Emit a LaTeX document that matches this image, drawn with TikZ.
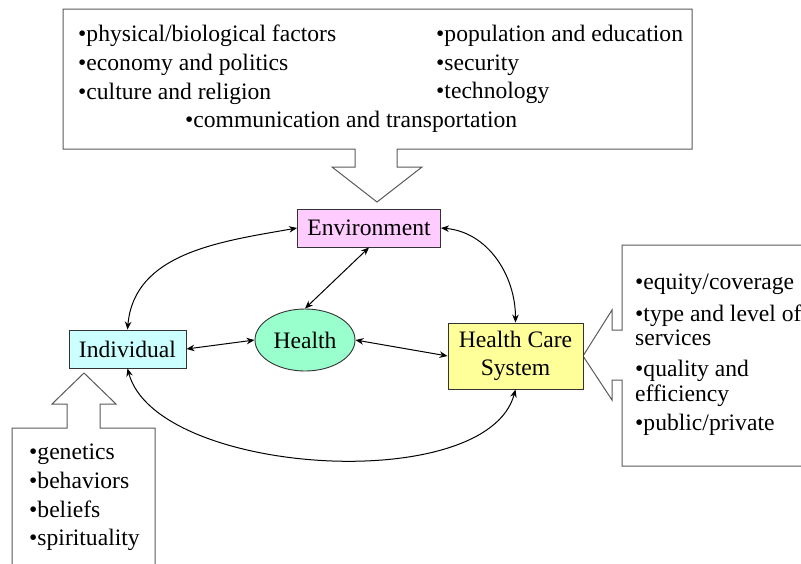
\documentclass[tikz,border=0pt]{standalone}
\usepackage{fontspec}
\setmainfont{Liberation Serif}
\usepackage{tikz}
\usetikzlibrary{shapes.geometric, arrows.meta}

\definecolor{envpink}{RGB}{255,204,255}
\definecolor{indcyan}{RGB}{204,255,255}
\definecolor{healthgreen}{RGB}{153,255,204}
\definecolor{hcsyellow}{RGB}{255,255,153}

\begin{document}
\begin{tikzpicture}[
    x=1pt, y=1pt,
    every node/.style={font=\fontsize{23.6}{28.6}\selectfont},
    box/.style={draw=black!80, line width=0.9pt, inner sep=0pt, align=center},
    callout/.style={draw=black!65, line width=1pt},
    listtext/.style={anchor=north west, inner sep=0pt, align=left},
    link/.style={{Stealth[length=8pt,width=6.5pt]}-{Stealth[length=8pt,width=6.5pt]}, line width=1pt}
]
    \useasboundingbox (0,0) rectangle (801,-563);

    % callout shapes
    \draw[callout] (63,-9) -- (692,-9) -- (692,-149) -- (397,-149) -- (397,-167) -- (422,-167)
        -- (377,-202) -- (332,-167) -- (355,-167) -- (355,-149) -- (63,-149) -- cycle;
    \draw[callout] (812,-245) -- (622,-245) -- (622,-330) -- (612,-330) -- (612,-310) -- (583,-356)
        -- (612,-400) -- (612,-380) -- (622,-380) -- (622,-466) -- (812,-466);
    \draw[callout] (12,-575) -- (12,-428) -- (67,-428) -- (67,-404) -- (52,-404) -- (84,-373)
        -- (116,-404) -- (100,-404) -- (100,-428) -- (155,-428) -- (155,-575);

    % callout texts
    \node[listtext] (envleft) at (78,-25) {•physical/biological factors\\•economy and politics\\•culture and religion};
    \node[listtext] (envright) at (436,-25) {•population and education\\•security\\•technology};
    \node[anchor=base west, inner sep=0pt] (envbottom) at (185,-127) {•communication and transportation};
    \node[listtext, font=\fontsize{23.6}{24.5}\selectfont] (hcslist) at (635,-274)
        {•equity/coverage\\[7pt]•type and level of\\services\\[6.5pt]•quality and\\efficiency\\[4.5pt]•public/private};
    \node[listtext] (indlist) at (29,-444) {•genetics\\•behaviors\\•beliefs\\•spirituality};

    % main nodes
    \node[box, fill=envpink, minimum width=143pt, minimum height=38pt] (env) at (369,-228) {Environment};
    \node[box, fill=indcyan, minimum width=117pt, minimum height=38pt] (indiv) at (127.5,-349) {Individual};
    \node[ellipse, draw=black!80, line width=0.9pt, fill=healthgreen, minimum width=100pt, minimum height=62pt, inner sep=0pt] (health) at (305,-340) {Health};
    \node[box, fill=hcsyellow, minimum width=135pt, minimum height=66pt] (hcs) at (515.5,-356) {Health Care\\System};

    \draw[link] (indiv.north) to[out=85, in=190] (env.west);
    \draw[link] (env.east) to[out=-5, in=90] (hcs.north);
    \draw[link] (env.south) -- (health.north);
    \draw[link] (indiv.east) -- (health.west);
    \draw[link] (health.east) -- (hcs.west);
    \draw[link] (indiv.south) to[out=-75, in=-105, looseness=0.73] (hcs.south);
\end{tikzpicture}
\end{document}
